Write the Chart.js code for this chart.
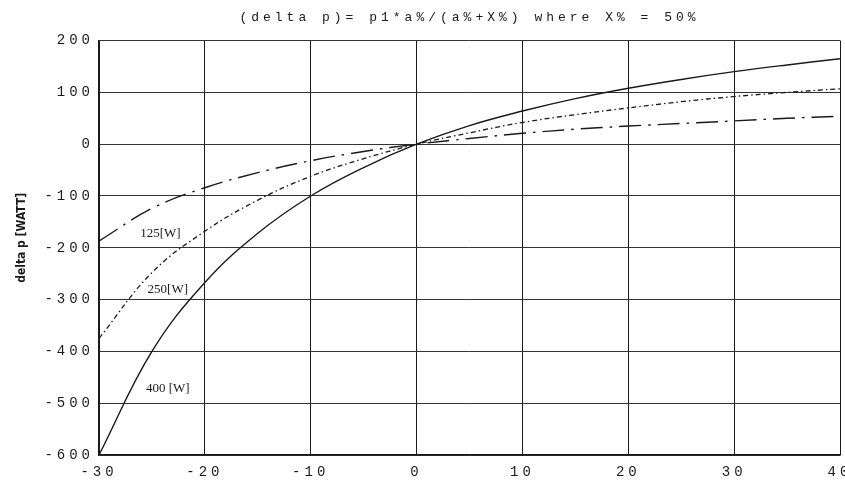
<!DOCTYPE html>
<html>
<head>
<meta charset="utf-8">
<script src="https://cdn.jsdelivr.net/npm/chart.js@4/dist/chart.umd.min.js"></script>
<style>
    html, body { margin: 0; padding: 0; background: #fff; }
    #wrap { width: 845px; height: 484px; }
</style>
</head>
<body>
<div id="wrap"><canvas id="myChart" width="845" height="484"></canvas></div>
<script>
// a% values along the x axis
const aPercent = [-30, -25, -20, -15, -10, -5, 0, 5, 10, 15, 20, 25, 30, 35, 40];
// delta p for each lamp power
const p400 = [-600, -400, -267, -172, -100, -45, 0, 36, 64, 88, 108, 125, 140, 153, 165];
const p250 = [-375, -248, -168, -108, -62, -28, 0, 22, 42, 57, 70, 82, 92, 100, 107];
const p125 = [-187, -124, -84, -55, -32, -14, 0, 11, 21, 29, 35, 40, 45, 50, 54];
const xTicks = [-30, -20, -10, 0, 10, 20, 30, 40];
const yTicks = [-600, -500, -400, -300, -200, -100, 0, 100, 200];
// curve labels: text, a%, delta p
const curveLabels = [
    ['125[W]', -24.2, -173],
    ['250[W]', -23.5, -280],
    ['400 [W]', -23.5, -472]
];
const yTitle = 'delta p [WATT]';

function toPoints(values) {
    return values.map((v, i) => ({ x: aPercent[i], y: v }));
}

const ink = '#1a1a1a';

// wide, typewriter-like lettering for title and ticks
const spacingPlugin = {
    id: 'spacing',
    beforeLayout(chart) { chart.ctx.letterSpacing = '4px'; },
    beforeDraw(chart) { chart.ctx.letterSpacing = '4px'; }
};

const labelPlugin = {
    id: 'curveLabels',
    afterDatasetsDraw(chart) {
        const ctx = chart.ctx;
        const xs = chart.scales.x, ys = chart.scales.y;
        ctx.save();
        ctx.letterSpacing = '0px';
        ctx.font = '13px "Liberation Serif"';
        ctx.fillStyle = ink;
        ctx.textAlign = 'center';
        ctx.textBaseline = 'middle';
        curveLabels.forEach(([t, a, p]) => {
            ctx.fillText(t, xs.getPixelForValue(a), ys.getPixelForValue(p));
        });
        // y axis title
        ctx.translate(22, (chart.chartArea.top + chart.chartArea.bottom) / 2 - 10);
        ctx.rotate(-Math.PI / 2);
        ctx.font = 'bold 12px "DejaVu Sans Condensed"';
        ctx.fillText(yTitle, 0, 0);
        ctx.restore();
    }
};

var myChart;
function createChart() {
    const ctx = document.getElementById('myChart').getContext('2d');
    myChart = new Chart(ctx, {
        type: 'line',
        data: {
            datasets: [
                {
                    label: '400 [W]',
                    data: toPoints(p400),
                    borderColor: ink,
                    borderWidth: 1.4,
                    pointRadius: 0,
                    tension: 0.4
                },
                {
                    label: '250 [W]',
                    data: toPoints(p250),
                    borderColor: ink,
                    borderWidth: 1.3,
                    borderDash: [5, 3, 1.5, 3],
                    pointRadius: 0,
                    tension: 0.4
                },
                {
                    label: '125 [W]',
                    data: toPoints(p125),
                    borderColor: ink,
                    borderWidth: 1.4,
                    borderDash: [22, 7, 2.5, 7],
                    pointRadius: 0,
                    tension: 0.4
                }
            ]
        },
        options: {
            responsive: false,
            animation: false,
            layout: { padding: { left: 0, right: 5, top: 8, bottom: 0 } },
            plugins: {
                legend: { display: false },
                tooltip: { enabled: false },
                title: {
                    display: true,
                    fullSize: false,
                    text: '(delta p)= p1*a%/(a%+X%) where X% = 50%',
                    color: ink,
                    font: { family: '"Liberation Mono"', size: 13, weight: 'normal' },
                    padding: { top: 2, bottom: 15 }
                }
            },
            scales: {
                x: {
                    type: 'linear',
                    min: -30,
                    max: 40,
                    afterBuildTicks: (scale) => { scale.ticks = xTicks.map(v => ({ value: v })); },
                    afterFit: (scale) => { scale.paddingRight = 0; scale.paddingLeft = 0; scale.height = 29; },
                    grid: { color: ink, lineWidth: 1, drawTicks: false },
                    border: { color: ink, width: 1.5 },
                    ticks: {
                        color: ink,
                        padding: 9,
                        maxRotation: 0,
                        autoSkip: false,
                        font: { family: '"Liberation Mono"', size: 14 }
                    }
                },
                y: {
                    type: 'linear',
                    min: -600,
                    max: 200,
                    afterBuildTicks: (scale) => { scale.ticks = yTicks.map(v => ({ value: v })); },
                    afterFit: (scale) => { scale.width = 99; },
                    grid: { color: '#333', lineWidth: 1, drawTicks: false, borderDash: [40, 3] },
                    border: { color: ink, width: 1.5 },
                    ticks: {
                        color: ink,
                        padding: 5,
                        font: { family: '"Liberation Mono"', size: 14 }
                    }
                }
            }
        },
        plugins: [spacingPlugin, labelPlugin]
    });
}

createChart();
</script>
</body>
</html>
